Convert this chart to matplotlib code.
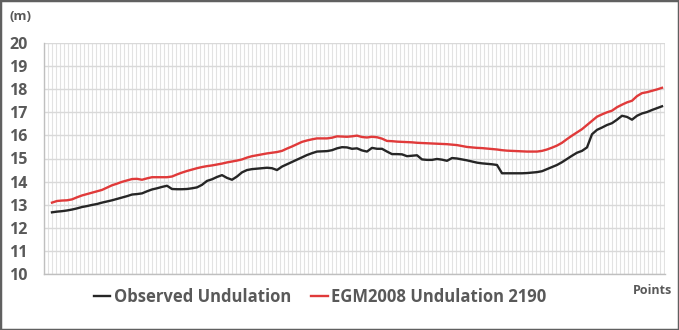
import numpy as np
import matplotlib
matplotlib.use('Agg')
from matplotlib import pyplot as plt
from matplotlib.ticker import MultipleLocator
from matplotlib.patches import Rectangle

observed = [12.67, 12.70, 12.72, 12.75, 12.79, 12.84, 12.90, 12.94, 12.99, 13.03,
            13.09, 13.14, 13.19, 13.25, 13.31, 13.37, 13.44, 13.46, 13.49, 13.58,
            13.66, 13.71, 13.77, 13.82, 13.68, 13.67, 13.67, 13.68, 13.71, 13.75,
            13.86, 14.03, 14.10, 14.20, 14.28, 14.16, 14.08, 14.22, 14.40, 14.50,
            14.54, 14.56, 14.58, 14.60, 14.58, 14.50, 14.65, 14.75, 14.85, 14.95,
            15.05, 15.15, 15.23, 15.30, 15.31, 15.32, 15.36, 15.44, 15.49, 15.48,
            15.42, 15.44, 15.35, 15.30, 15.46, 15.42, 15.42, 15.30, 15.19, 15.19,
            15.18, 15.10, 15.12, 15.14, 14.96, 14.94, 14.94, 14.98, 14.95, 14.90,
            15.02, 15.00, 14.96, 14.92, 14.87, 14.82, 14.79, 14.77, 14.75, 14.72,
            14.36, 14.36, 14.36, 14.36, 14.36, 14.37, 14.39, 14.41, 14.45, 14.54,
            14.63, 14.72, 14.84, 14.98, 15.12, 15.25, 15.33, 15.48, 16.05, 16.24,
            16.34, 16.45, 16.53, 16.68, 16.85, 16.80, 16.68, 16.85, 16.95, 17.01,
            17.10, 17.18, 17.26]

egm2008 = [13.09, 13.16, 13.18, 13.19, 13.23, 13.32, 13.40, 13.46, 13.52, 13.58,
           13.64, 13.74, 13.84, 13.91, 13.99, 14.05, 14.11, 14.12, 14.08, 14.14,
           14.19, 14.19, 14.19, 14.19, 14.22, 14.31, 14.39, 14.46, 14.52, 14.58,
           14.63, 14.67, 14.70, 14.74, 14.78, 14.83, 14.87, 14.91, 14.96, 15.04,
           15.10, 15.14, 15.18, 15.22, 15.25, 15.28, 15.33, 15.43, 15.52, 15.62,
           15.72, 15.78, 15.83, 15.87, 15.87, 15.87, 15.90, 15.96, 15.95, 15.94,
           15.96, 15.99, 15.93, 15.91, 15.94, 15.92, 15.86, 15.76, 15.75, 15.73,
           15.72, 15.71, 15.70, 15.68, 15.67, 15.66, 15.65, 15.64, 15.63, 15.62,
           15.60, 15.58, 15.54, 15.50, 15.48, 15.46, 15.45, 15.43, 15.41, 15.39,
           15.36, 15.34, 15.33, 15.32, 15.31, 15.30, 15.30, 15.30, 15.33, 15.39,
           15.47, 15.56, 15.68, 15.84, 15.99, 16.13, 16.27, 16.45, 16.63, 16.81,
           16.91, 17.00, 17.07, 17.22, 17.33, 17.43, 17.50, 17.70, 17.83, 17.87,
           17.93, 17.99, 18.06]

yticks = list(range(10, 21))
points = np.arange(len(observed))

grey = '#595959'
fig = plt.figure(figsize=(6.79, 3.30), dpi=100)
ax = fig.add_axes([44/679, 1-274/330, 621/679, 231/330])

ax.plot(points, observed, color='#262626', lw=1.7, label='Observed Undulation', zorder=3)
ax.plot(points, egm2008, color='#e03a3a', lw=1.7, label='EGM2008 Undulation 2190', zorder=3)

ax.set_ylim(10, 20)
ax.set_xlim(-1.6, 122.6)
ax.set_yticks(yticks)
ax.set_xticks([])
ax.xaxis.set_minor_locator(MultipleLocator(0.8))
ax.grid(axis='y', color='#d9d9d9', lw=1.0, zorder=0)
ax.grid(axis='x', which='minor', color='#e2e2e2', lw=0.8, zorder=0)
ax.tick_params(axis='y', length=0, pad=12, labelsize=11.5, labelcolor=grey)
ax.tick_params(axis='x', which='both', length=0)
for lab in ax.get_yticklabels():
    lab.set_fontfamily('Open Sans')
    lab.set_fontweight('bold')
for s in ['top', 'right']:
    ax.spines[s].set_visible(False)
for s in ['left', 'bottom']:
    ax.spines[s].set_color('#bfbfbf')
    ax.spines[s].set_linewidth(1.0)

fig.text(20/679, 1-17/330, '(m)', ha='center', va='center', fontsize=9.5,
         fontweight='bold', color=grey, family='Open Sans')
fig.text(652/679, 1-290/330, 'Points', ha='center', va='center', fontsize=9,
         fontweight='bold', color=grey, family='Open Sans')

leg = fig.legend(loc='center', bbox_to_anchor=(320/679, 1-297/330), ncol=2,
                 frameon=False, handlelength=1.0, handletextpad=0.2,
                 columnspacing=1.2, prop={'family': 'Open Sans', 'weight': 'bold', 'size': 12})
for t in leg.get_texts():
    t.set_color(grey)

fig.patches.append(Rectangle((0, 0), 1, 1, transform=fig.transFigure, fill=False,
                             edgecolor='#606060', lw=2.5))

fig.savefig('out.png', dpi=100)
